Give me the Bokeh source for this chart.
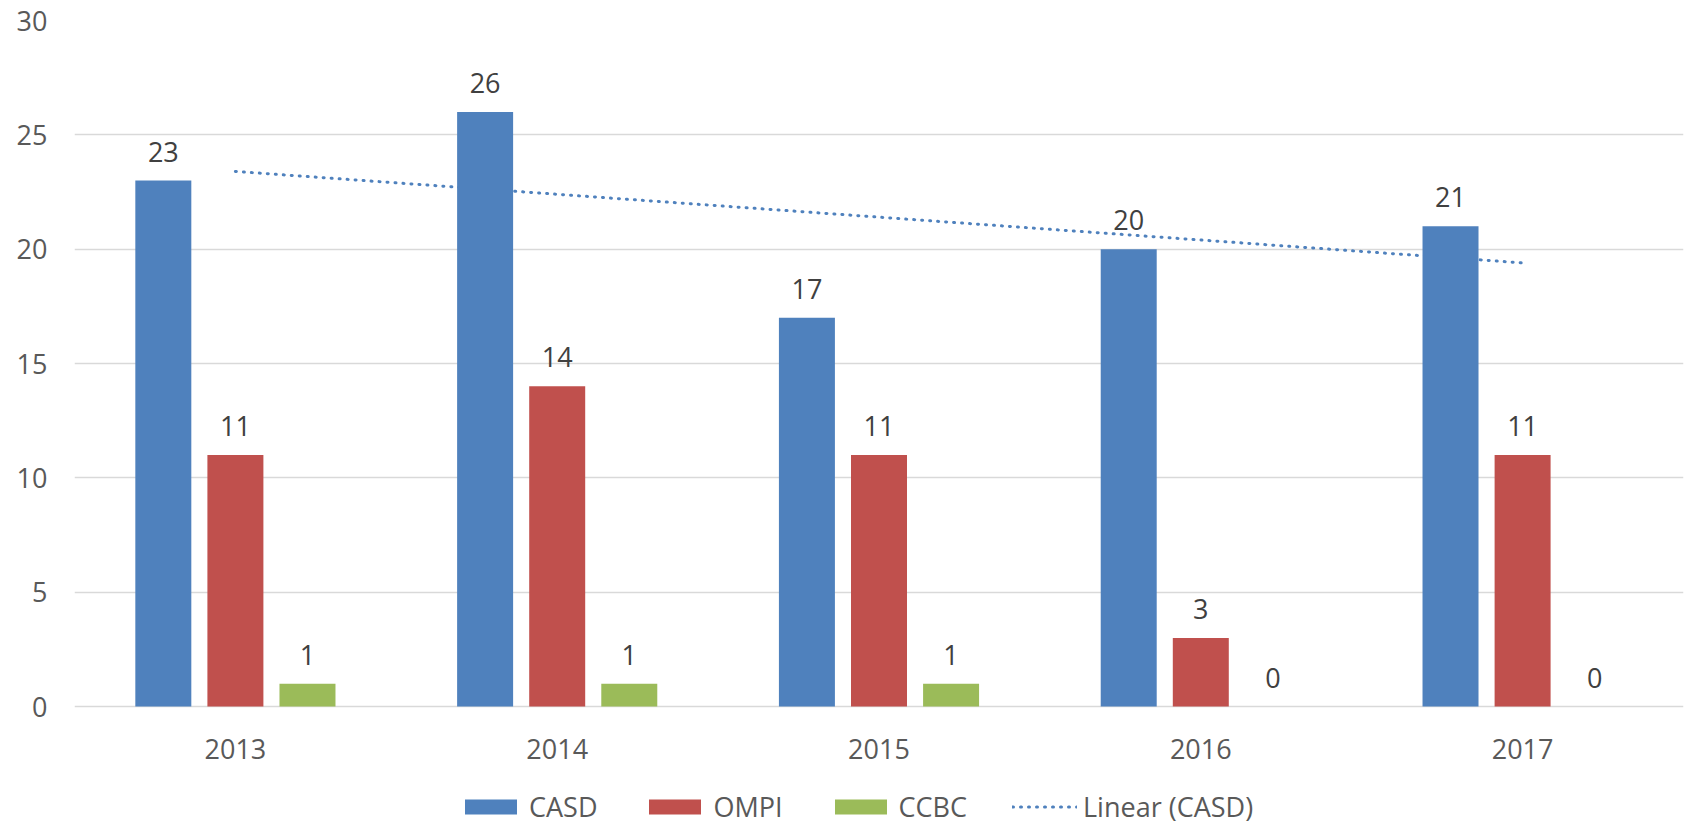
import numpy as np
from bokeh.plotting import figure
from bokeh.models import (FactorRange, Range1d, Legend, LegendItem, ColumnDataSource,
                          LabelSet, FixedTicker)
from bokeh.core.properties import value
from bokeh.transform import dodge
from bokeh.embed import file_html
from bokeh.resources import INLINE

years = ["2013", "2014", "2015", "2016", "2017"]
casd = [23, 26, 17, 20, 21]
ompi = [11, 14, 11, 3, 11]
ccbc = [1, 1, 1, 0, 0]
y_ticks = [0, 5, 10, 15, 20, 25, 30]

# linear trend of CASD (least squares, as in the spreadsheet trendline)
xi = np.arange(1, len(casd) + 1)
slope, intercept = np.polyfit(xi, casd, 1)
trend = list(slope * xi + intercept)

BLUE, RED, GREEN = "#4F81BD", "#C0504D", "#9BBB59"
FONT = "Open Sans"
FS = "27px"

# layout: value axis 0..30 spans 686 px; 119 px below zero hold labels & legend
PLOT_PX = 686
BELOW_PX = 119
YMAX = 30
y_start = -BELOW_PX * YMAX / PLOT_PX

src = ColumnDataSource(dict(years=years, casd=casd, ompi=ompi, ccbc=ccbc, trend=trend,
                            zero=[0] * len(years)))

p = figure(x_range=FactorRange(*years), y_range=Range1d(y_start, YMAX),
           frame_width=1609, frame_height=PLOT_PX + BELOW_PX,
           output_backend="svg", toolbar_location=None,
           min_border_left=74, min_border_right=13, min_border_top=20, min_border_bottom=0)
p.outline_line_color = None
p.background_fill_color = "white"

W = 0.174
OFF = 0.224

tl = p.line("years", "trend", source=src, line_color=BLUE, line_width=3,
            line_dash="1 7", line_cap="round")
b1 = p.vbar(x=dodge("years", -OFF, range=p.x_range), top="casd", width=W, source=src,
            fill_color=BLUE, line_color=None)
b2 = p.vbar(x=dodge("years", 0, range=p.x_range), top="ompi", width=W, source=src,
            fill_color=RED, line_color=None)
b3 = p.vbar(x=dodge("years", OFF, range=p.x_range), top="ccbc", width=W, source=src,
            fill_color=GREEN, line_color=None)

for col, off in (("casd", -OFF), ("ompi", 0), ("ccbc", OFF)):
    lbl = LabelSet(x=dodge("years", off, range=p.x_range), y=col, text=col, source=src,
                   text_align="center", text_baseline="middle", y_offset=29,
                   text_font=value(FONT), text_font_size=FS, text_color="#404040")
    p.add_layout(lbl)

# category labels below the zero line
cat = LabelSet(x="years", y="zero", text="years", source=src,
               text_align="center", text_baseline="middle", y_offset=-42,
               text_font=value(FONT), text_font_size=FS, text_color="#595959")
p.add_layout(cat)

p.ygrid.grid_line_color = "#D9D9D9"
p.ygrid.grid_line_width = 1.3
p.xgrid.grid_line_color = None
p.yaxis.ticker = FixedTicker(ticks=y_ticks)
p.yaxis.axis_line_color = None
p.yaxis.major_tick_line_color = None
p.yaxis.minor_tick_line_color = None
p.yaxis.major_tick_out = 0
p.yaxis.major_label_standoff = 27
p.yaxis.major_label_text_font = FONT
p.yaxis.major_label_text_font_size = FS
p.yaxis.major_label_text_color = "#595959"
p.xaxis.visible = False

legend = Legend(items=[LegendItem(label="CASD", renderers=[b1]),
                       LegendItem(label="OMPI", renderers=[b2]),
                       LegendItem(label="CCBC", renderers=[b3]),
                       LegendItem(label="Linear (CASD)", renderers=[tl])],
                orientation="horizontal", location=(384, 0),
                glyph_width=65, glyph_height=19, label_standoff=6, spacing=45,
                label_text_font=FONT, label_text_font_size=FS, label_text_color="#595959",
                border_line_color=None, background_fill_alpha=0, margin=0, padding=0)
p.add_layout(legend, "center")

open("out.html", "w").write(file_html(p, INLINE))
